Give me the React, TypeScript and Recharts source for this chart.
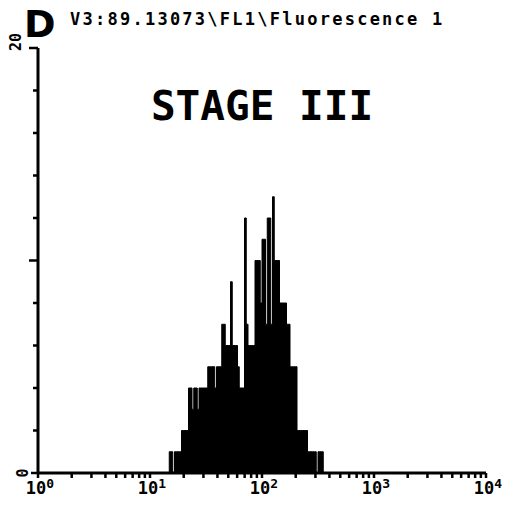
import React from 'react';
import { ComposedChart, Area, XAxis, YAxis } from 'recharts';

// histogram counts per channel (256 channels over 4 decades)
const firstChannel = 74;
const counts = [
  0, 1, 1, 0, 1, 1, 1, 1, 2, 2, 2, 2, 4, 4, 3, 4, 4, 3, 4, 4,
  4, 4, 4, 5, 5, 5, 5, 4, 5, 5, 5, 7, 7, 6, 6, 6, 9, 6, 6, 6,
  5, 4, 4, 4, 12, 7, 6, 6, 6, 6, 10, 10, 10, 8, 11, 11, 7, 12, 12, 7,
  13, 10, 10, 10, 8, 8, 8, 8, 7, 7, 5, 5, 5, 5, 2, 2, 2, 2, 2, 2,
  1, 1, 1, 1, 1, 0, 1, 1, 1, 0,
];

const decadeLabels = ['0', '1', '2', '3', '4'];
const yTicks = [0, 2, 4, 6, 8, 10, 12, 14, 16, 18, 20];
const minorMultipliers = [2, 3, 4, 5, 6, 7, 8, 9];

const CH_PER_DECADE = 64;
const data = counts.map((c, i) => ({ ch: firstChannel + i, count: c }));

const majorTicks = decadeLabels.map((_, i) => i * CH_PER_DECADE);
const minorTicks: number[] = [];
for (let d = 0; d < 4; d++) {
  minorMultipliers.forEach(m => minorTicks.push((d + Math.log10(m)) * CH_PER_DECADE));
}
const xTicks = [...majorTicks, ...minorTicks].sort((a, b) => a - b);

const mono = '"DejaVu Sans Mono", monospace';

const XTick = ({ x, y, payload }: any) => {
  const idx = majorTicks.indexOf(payload.value);
  return (
    <g>
      <line x1={x} x2={x} y1={y} y2={y + 5} stroke="#000" strokeWidth={2.5} />
      {idx >= 0 && (
        <text x={x + 2} y={y + 21} textAnchor="middle" fontFamily={mono} fontWeight="bold" fontSize={17} fill="#000">
          10
          <tspan dy={-6} fontSize={13}>{decadeLabels[idx]}</tspan>
        </text>
      )}
    </g>
  );
};

const YTick = ({ x, y, payload }: any) => {
  const v = payload.value;
  const len = v === 10 || v === 20 ? 9 : v === 0 ? 7 : 5;
  const lx = v === 20 ? x - 22 : x - 15;
  return (
    <g>
      <line x1={x - len} x2={x} y1={y} y2={y} stroke="#000" strokeWidth={2.5} />
      {(v === 0 || v === 20) && (
        <text
          x={lx}
          y={v === 20 ? y - 6 : y}
          transform={`rotate(-90 ${lx} ${v === 20 ? y - 6 : y})`}
          textAnchor="middle"
          dominantBaseline="central"
          fontFamily={mono}
          fontWeight="bold"
          fontSize={15}
          fill="#000"
        >
          {v}
        </text>
      )}
    </g>
  );
};

export default function App() {
  return (
    <div style={{ position: 'absolute', left: 0, top: 0, width: 509, height: 506, background: '#fff' }}>
      <ComposedChart width={509} height={506} data={data} margin={{ top: 48, right: 23, bottom: 0, left: 0 }}>
        <XAxis
          dataKey="ch"
          type="number"
          domain={[0, 256]}
          ticks={xTicks}
          interval={0}
          tick={<XTick />}
          tickLine={false}
          tickSize={0}
          tickMargin={0}
          height={33}
          axisLine={{ stroke: '#000', strokeWidth: 3 }}
          allowDataOverflow
        />
        <YAxis
          type="number"
          domain={[0, 20]}
          ticks={yTicks}
          interval={0}
          tick={<YTick />}
          tickLine={false}
          tickSize={0}
          tickMargin={0}
          width={38}
          axisLine={{ stroke: '#000', strokeWidth: 3 }}
        />
        <Area
          type="stepAfter"
          dataKey="count"
          stroke="#000"
          strokeWidth={1}
          fill="#000"
          fillOpacity={1}
          isAnimationActive={false}
          dot={false}
          activeDot={false}
        />
        <text x={24} y={37} fontFamily='"DejaVu Sans", sans-serif' fontWeight="bold" fontSize={38} fill="#000">
          D
        </text>
        <text x={70} y={25} fontFamily={mono} fontWeight="bold" fontSize={17} letterSpacing={2.25} fill="#000">
          {'V3:89.13073\\FL1\\Fluorescence 1'}
        </text>
        <text x={262} y={120} textAnchor="middle" fontFamily={mono} fontWeight="bold" fontSize={41} fill="#000">
          STAGE III
        </text>
      </ComposedChart>
    </div>
  );
}
